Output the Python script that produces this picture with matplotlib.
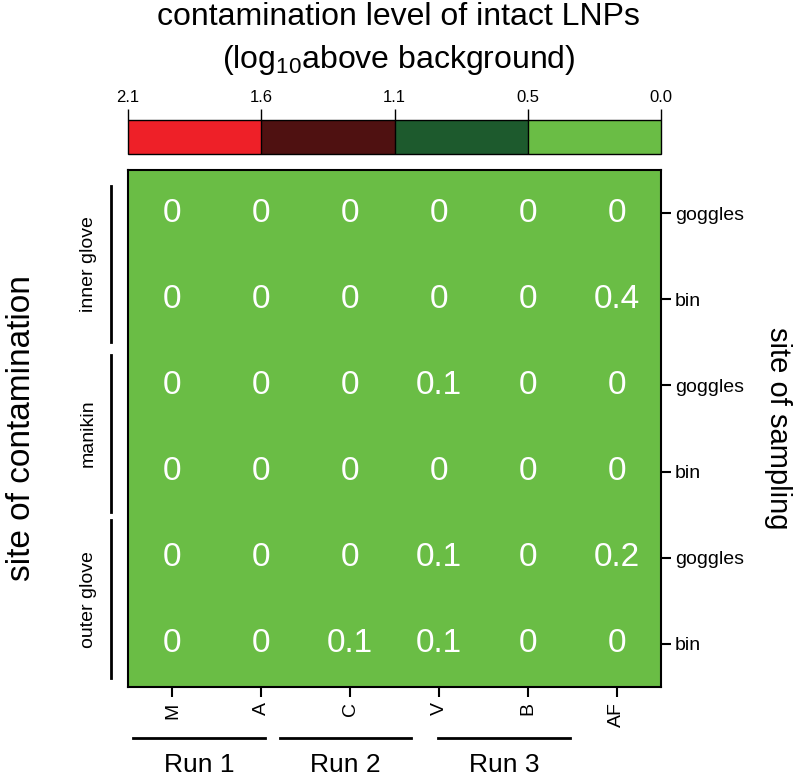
import numpy as np
import matplotlib
matplotlib.use("Agg")
import matplotlib.pyplot as plt
from matplotlib.colors import ListedColormap, BoundaryNorm
import matplotlib.transforms as mtransforms

plt.rcParams["font.family"] = ["Liberation Sans", "DejaVu Sans"]
plt.rcParams["mathtext.default"] = "regular"

# ------------------------------------------------------------------
# Data
# ------------------------------------------------------------------
columns = ["M", "A", "C", "V", "B", "AF"]
runs = ["Run 1", "Run 2", "Run 3"]
sampling_sites = ["goggles", "bin", "goggles", "bin", "goggles", "bin"]
contamination_sites = ["inner glove", "manikin", "outer glove"]

values = np.array([
    [0, 0, 0, 0, 0, 0],
    [0, 0, 0, 0, 0, 0.4],
    [0, 0, 0, 0.1, 0, 0],
    [0, 0, 0, 0, 0, 0],
    [0, 0, 0, 0.1, 0, 0.2],
    [0, 0, 0.1, 0.1, 0, 0],
])

bounds = [0.0, 0.5, 1.1, 1.6, 2.1]
level_colors = ["#6abd45", "#1d5a2d", "#4f1111", "#ee2028"]

# layout of group brackets (data units)
run_spans = [(-0.44, 1.04), (1.21, 2.68), (2.99, 4.48)]
group_spans = [(-0.32, 1.5), (1.65, 3.47), (3.56, 5.4)]

# ------------------------------------------------------------------
# Figure
# ------------------------------------------------------------------
fig = plt.figure(figsize=(7.97, 7.77), dpi=100)
ax = fig.add_axes([0.1606, 0.1158, 0.6688, 0.6654])
cax = fig.add_axes([0.1606, 0.8018, 0.6688, 0.0438])

cmap = ListedColormap(level_colors)
norm = BoundaryNorm(bounds, cmap.N)

mesh = ax.pcolormesh(values, cmap=cmap, norm=norm)
ax.set_xlim(0, len(columns))
ax.set_ylim(len(sampling_sites), 0)

for i in range(values.shape[0]):
    for j in range(values.shape[1]):
        v = values[i, j]
        txt = "0" if v == 0 else f"{v:g}"
        ax.text(j + 0.5, i + 0.5, txt, color="white", fontsize=24,
                ha="center", va="center")

for spine in ax.spines.values():
    spine.set_linewidth(1.5)

ax.set_xticks(np.arange(len(columns)) + 0.5)
ax.set_xticklabels(columns, rotation=90, fontsize=14)
ax.tick_params(axis="x", length=7, width=1.5, pad=4)
ax.yaxis.tick_right()
ax.set_yticks(np.arange(len(sampling_sites)) + 0.5)
ax.set_yticklabels(sampling_sites, fontsize=14)
ax.tick_params(axis="y", length=7, width=1.5, pad=3)

# run brackets below
tr_x = mtransforms.blended_transform_factory(ax.transData, ax.transAxes)
for name, (x0, x1) in zip(runs, run_spans):
    x0 += 0.5
    x1 += 0.5
    ax.plot([x0, x1], [-0.099, -0.099], color="black", lw=2,
            transform=tr_x, clip_on=False)
    ax.text((x0 + x1) / 2, -0.128, name, transform=tr_x, fontsize=19,
            ha="center", va="top")

# contamination brackets on left
tr_y = mtransforms.blended_transform_factory(ax.transAxes, ax.transData)
for name, (y0, y1) in zip(contamination_sites, group_spans):
    y0 += 0.5
    y1 += 0.5
    ax.plot([-0.032, -0.032], [y0, y1], color="black", lw=2,
            transform=tr_y, clip_on=False)
    ax.text(-0.075, (y0 + y1) / 2, name, transform=tr_y, fontsize=14,
            rotation=90, ha="center", va="center")

ax.text(-0.2, 0.5, "site of contamination", transform=ax.transAxes,
        fontsize=24, rotation=90, ha="center", va="center")
ax.text(1.22, 0.5, "site of sampling", transform=ax.transAxes,
        fontsize=21, rotation=270, ha="center", va="center")

# colorbar
cb = fig.colorbar(mesh, cax=cax, orientation="horizontal",
                  boundaries=bounds, spacing="uniform")
cb.set_ticks(bounds)
cb.set_ticklabels([f"{b:.1f}" for b in bounds])
cax.invert_xaxis()
cax.xaxis.set_ticks_position("top")
cax.xaxis.set_label_position("top")
cax.tick_params(axis="x", length=8, width=1, labelsize=12, pad=3)
cb.outline.set_linewidth(1)
cax.vlines([0.5, 1.1, 1.6], 0, 1, colors="black", lw=1,
           transform=mtransforms.blended_transform_factory(cax.transData, cax.transAxes))

fig.text(0.5, 0.9678, "contamination level of intact LNPs", fontsize=23,
         ha="center", va="baseline")
fig.text(0.5, 0.912, "(log$_{10}$above background)", fontsize=23,
         ha="center", va="baseline")

fig.savefig("out.png", dpi=100)
plt.close(fig)
